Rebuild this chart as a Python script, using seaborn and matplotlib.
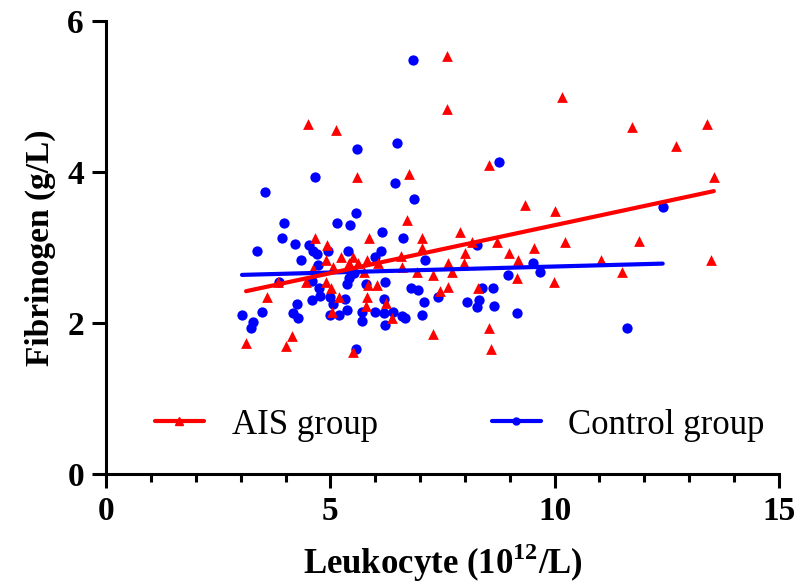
import matplotlib
matplotlib.use("Agg")
import matplotlib.pyplot as plt
from matplotlib.lines import Line2D
from matplotlib.ticker import MultipleLocator
import numpy as np
import seaborn as sns

# AIS group: leukocyte (10^12/L) vs fibrinogen (g/L)
ais_wbc = [3.12, 3.59, 3.83, 4.15, 4.01, 4.50, 5.13, 4.66, 4.93, 4.90,
           4.61, 4.46, 4.90, 5.01, 5.04, 5.24, 5.50, 5.42, 5.62, 5.82,
           6.06, 5.06, 5.75, 5.84, 6.04, 5.19, 5.82, 5.79, 6.24, 6.37,
           5.50, 5.86, 5.59, 6.75, 8.54, 6.71, 7.60, 7.60, 7.04, 7.04,
           7.89, 6.57, 8.16, 8.00, 8.71, 8.98, 9.54, 10.23, 9.18, 7.62,
           7.98, 6.60, 6.93, 7.29, 7.71, 9.16, 9.98, 7.62, 7.44, 8.29,
           7.29, 8.54, 8.58, 9.34, 10.01, 10.16, 11.72, 13.39, 12.70, 13.55,
           11.88, 11.03, 11.50, 13.48]
ais_fib = [1.73, 2.34, 2.54, 1.83, 1.69, 4.64, 4.56, 3.13, 3.04, 2.84,
           2.72, 2.54, 2.54, 2.46, 2.15, 2.88, 2.88, 2.79, 2.80, 2.83,
           2.79, 2.74, 2.68, 2.50, 2.50, 2.35, 2.34, 2.23, 2.26, 2.06,
           1.61, 3.13, 3.93, 3.97, 4.09, 3.37, 5.54, 4.83, 3.13, 3.00,
           3.20, 2.89, 3.07, 2.93, 3.07, 2.93, 3.00, 3.07, 2.83, 2.79,
           2.79, 2.74, 2.68, 2.63, 2.68, 2.59, 2.55, 2.48, 2.43, 2.46,
           1.85, 1.93, 1.66, 3.56, 3.49, 4.99, 4.60, 4.64, 4.35, 3.93,
           3.09, 2.84, 2.68, 2.84]

# Control group
ctrl_wbc = [6.84, 6.49, 5.59, 4.66, 3.54, 6.44, 6.86, 5.57, 3.97, 5.15,
            5.44, 8.76, 12.41, 11.61, 3.92, 6.15, 4.21, 4.52, 3.37, 4.61,
            4.70, 4.95, 5.39, 6.13, 6.00, 4.35, 4.72, 5.53, 5.42, 5.37,
            3.86, 4.59, 5.79, 6.22, 4.75, 4.77, 4.99, 4.59, 5.33, 4.26,
            5.06, 6.20, 3.48, 4.17, 4.28, 3.03, 3.28, 3.23, 4.99, 5.19,
            5.37, 5.71, 6.00, 6.20, 6.40, 6.60, 6.66, 5.71, 6.22, 5.57,
            6.62, 7.11, 8.27, 9.52, 9.67, 8.96, 6.80, 6.95, 8.38, 8.62,
            7.40, 7.09, 8.05, 8.31, 8.27, 8.65, 9.16, 7.04]
ctrl_fib = [5.48, 4.39, 4.31, 3.94, 3.73, 3.85, 3.64, 3.46, 3.32, 3.33,
            3.30, 4.13, 3.54, 1.93, 3.13, 3.20, 3.05, 3.04, 2.95, 2.95,
            2.92, 2.95, 2.96, 2.95, 2.87, 2.84, 2.77, 2.66, 2.59, 2.52,
            2.54, 2.56, 2.52, 2.55, 2.47, 2.36, 2.34, 2.30, 2.32, 2.25,
            2.25, 2.32, 2.14, 2.13, 2.07, 2.11, 2.01, 1.94, 2.11, 2.11,
            2.17, 2.15, 2.14, 2.13, 2.14, 2.09, 2.06, 2.02, 1.98, 1.66,
            3.13, 2.83, 3.04, 2.80, 2.68, 2.63, 2.47, 2.44, 2.46, 2.46,
            2.34, 2.28, 2.28, 2.30, 2.21, 2.23, 2.13, 2.11]

x_ticks = [0, 5, 10, 15]
y_ticks = [0, 2, 4, 6]

sns.set_style("ticks")
plt.rcParams['font.family'] = ['Liberation Serif', 'DejaVu Serif']
plt.rcParams['mathtext.fontset'] = 'custom'
plt.rcParams['mathtext.rm'] = 'Liberation Serif'
plt.rcParams['mathtext.bf'] = 'Liberation Serif:bold'
plt.rcParams['text.color'] = 'black'
plt.rcParams['axes.labelcolor'] = 'black'
plt.rcParams['xtick.color'] = 'black'
plt.rcParams['ytick.color'] = 'black'

fig = plt.figure(figsize=(7.98, 5.88), dpi=100)
ax = fig.add_axes([0.133, 0.194, 0.843, 0.770])

sns.regplot(x=np.array(ctrl_wbc), y=np.array(ctrl_fib), ax=ax, ci=None,
            color='#0000ff', marker='o',
            scatter_kws={'s': 55, 'linewidths': 0, 'alpha': 1},
            line_kws={'lw': 3})
sns.regplot(x=np.array(ais_wbc), y=np.array(ais_fib), ax=ax, ci=None,
            color='#ff0000', marker='^',
            scatter_kws={'s': 60, 'linewidths': 0, 'alpha': 1},
            line_kws={'lw': 3})

ax.set_xlim(0, 15)
ax.set_ylim(0, 6)
ax.set_xticks(x_ticks)
ax.set_yticks(y_ticks)
ax.xaxis.set_minor_locator(MultipleLocator(1))
sns.despine(ax=ax)
for s in ['left', 'bottom']:
    ax.spines[s].set_linewidth(2.2)
    ax.spines[s].set_color('black')
ax.tick_params(which='major', length=10, width=2.2, color='black',
               labelcolor='black', labelsize=24, pad=6)
ax.tick_params(which='minor', length=6, width=2.2, color='black')
for lab in ax.get_xticklabels() + ax.get_yticklabels():
    lab.set_fontweight('bold')

ax.set_xlabel(r'Leukocyte (10$^{\mathbf{12}}$/L)', fontsize=25,
              fontweight='bold', labelpad=10, color='black')
ax.set_ylabel('Fibrinogen (g/L)', fontsize=24, fontweight='bold',
              labelpad=8, color='black')

handles = [Line2D([], [], color='#ff0000', lw=3, marker='^', markersize=6),
           Line2D([], [], color='#0000ff', lw=3, marker='o', markersize=5)]
leg = ax.legend(handles, ['AIS group', 'Control group'], loc='center',
                bbox_to_anchor=(0.526, 0.108), ncol=2, frameon=False,
                fontsize=25, handlelength=1.4, handletextpad=0.8,
                columnspacing=3.3)
for t in leg.get_texts():
    t.set_color('black')

fig.savefig('out.png', dpi=100)
